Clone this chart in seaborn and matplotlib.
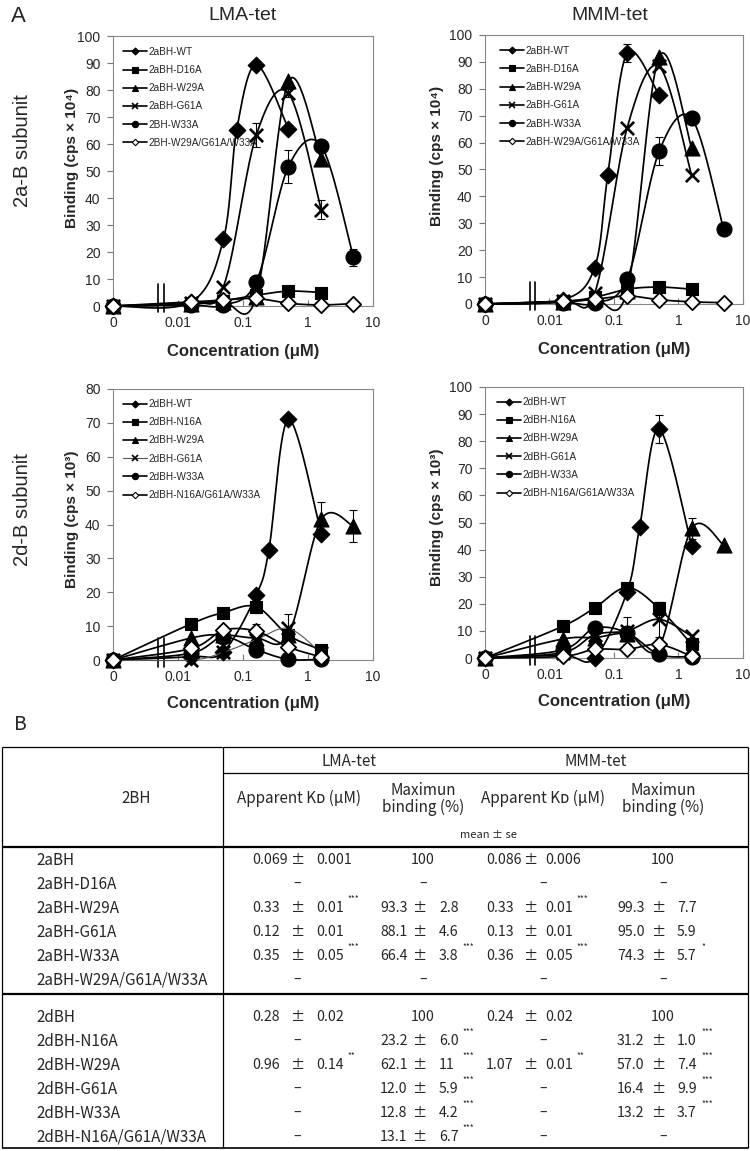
import numpy as np
import matplotlib
matplotlib.use("Agg")
import matplotlib.pyplot as plt
import matplotlib.transforms as mtransforms
from matplotlib.lines import Line2D
import seaborn as sns

# ------------------------------------------------------------------ data
conc6 = [0, 0.016, 0.05, 0.16, 0.5, 1.6]
conc7 = [0, 0.016, 0.05, 0.16, 0.5, 1.6, 5]
conc_wt_a = [0, 0.016, 0.05, 0.08, 0.16, 0.5]
conc_wt_d = [0, 0.016, 0.05, 0.16, 0.25, 0.5, 1.6]

# LMA-tet, 2a-B subunit (cps x 10^4)
lma_a_labels = ["2aBH-WT", "2aBH-D16A", "2aBH-W29A", "2aBH-G61A", "2BH-W33A", "2BH-W29A/G61A/W33A"]
lma_a_wt = [0, 1.5, 24.7, 65.2, 89.3, 65.6]
lma_a_wt_err = [0, 0, 0, 0, 0, 0]
lma_a_d16a = [0, 1.0, 2.0, 4.0, 5.5, 5.0]
lma_a_w29a = [0, 0.8, 1.5, 3.5, 83.2, 54.3]
lma_a_g61a = [0, 1.2, 7.2, 63.3, 78.8, 35.6]
lma_a_g61a_err = [0, 0, 0, 4.5, 1.5, 3.5]
lma_a_w33a = [0, 0.3, 0.3, 9.0, 51.6, 59.3, 18.0]
lma_a_w33a_err = [0, 0, 0, 0.5, 6.2, 1.0, 3.2]
lma_a_triple = [0, 1.5, 2.2, 2.8, 1.0, 0.4, 0.9]

# MMM-tet, 2a-B subunit (cps x 10^4)
mmm_a_labels = ["2aBH-WT", "2aBH-D16A", "2aBH-W29A", "2aBH-G61A", "2aBH-W33A", "2aBH-W29A/G61A/W33A"]
mmm_a_wt = [0, 1.5, 13.5, 47.8, 93.3, 77.7]
mmm_a_wt_err = [0, 0, 0, 0, 3.5, 1.5]
mmm_a_d16a = [0, 1.0, 2.5, 5.5, 6.3, 5.5]
mmm_a_w29a = [0, 0.8, 2.0, 5.0, 92.0, 58.0]
mmm_a_g61a = [0, 1.2, 4.0, 65.5, 88.3, 47.8]
mmm_a_w33a = [0, 0.5, 0.3, 9.3, 56.7, 69.0, 27.9]
mmm_a_w33a_err = [0, 0, 0, 0, 5.2, 0, 0]
mmm_a_triple = [0, 1.0, 1.8, 3.0, 1.6, 0.8, 0.5]

# LMA-tet, 2d-B subunit (cps x 10^3)
lma_d_labels = ["2dBH-WT", "2dBH-N16A", "2dBH-W29A", "2dBH-G61A", "2dBH-W33A", "2dBH-N16A/G61A/W33A"]
lma_d_wt = [0, 1.0, 2.5, 19.2, 32.5, 71.0, 37.2]
lma_d_n16a = [0, 10.7, 14.0, 15.7, 7.3, 3.0]
lma_d_n16a_err = [0, 0, 1.0, 1.8, 0, 0]
lma_d_w29a = [0, 6.5, 7.4, 6.5, 7.5, 41.5, 39.5]
lma_d_w29a_err = [0, 0, 0, 0, 0, 5.2, 4.8]
lma_d_g61a = [0, 0.0, 2.3, 6.0, 9.3, 2.0]
lma_d_g61a_err = [0, 0, 0, 0, 4.3, 0]
lma_d_w33a = [0, 2.0, 6.8, 3.0, 0.2, 0.2]
lma_d_triple = [0, 3.4, 8.8, 8.5, 3.8, 0.9]
lma_d_triple_err = [0, 0, 0, 2.0, 0, 0]

# MMM-tet, 2d-B subunit (cps x 10^3)
mmm_d_labels = ["2dBH-WT", "2dBH-N16A", "2dBH-W29A", "2dBH-G61A", "2dBH-W33A", "2dBH-N16A/G61A/W33A"]
mmm_d_wt = [0, 1.0, 0.0, 24.5, 48.3, 84.5, 41.3]
mmm_d_wt_err = [0, 0, 0, 0, 0, 5.2, 0]
mmm_d_n16a = [0, 11.7, 18.5, 26.0, 18.3, 5.0]
mmm_d_n16a_err = [0, 0, 0, 0, 2.5, 0]
mmm_d_w29a = [0, 7.0, 7.5, 9.0, 4.0, 47.8, 41.7]
mmm_d_w29a_err = [0, 0, 0, 0, 0, 4.0, 0]
mmm_d_g61a = [0, 2.0, 8.6, 10.0, 14.3, 8.0]
mmm_d_g61a_err = [0, 0, 0, 5.0, 6.5, 0]
mmm_d_w33a = [0, 3.0, 11.0, 9.3, 1.3, 0.5]
mmm_d_triple = [0, 0.6, 3.2, 3.2, 5.0, 0.6]

xtick_vals = [0, 0.01, 0.1, 1, 10]
xtick_labels = ["0", "0.01", "0.1", "1", "10"]

# table B
tab_labels_a = ["2aBH", "2aBH-D16A", "2aBH-W29A", "2aBH-G61A", "2aBH-W33A", "2aBH-W29A/G61A/W33A"]
tab_lma_kd_a = [("0.069", "0.001", ""), None, ("0.33", "0.01", "***"), ("0.12", "0.01", ""), ("0.35", "0.05", "***"), None]
tab_lma_max_a = ["100", None, ("93.3", "2.8", ""), ("88.1", "4.6", ""), ("66.4", "3.8", "***"), None]
tab_mmm_kd_a = [("0.086", "0.006", ""), None, ("0.33", "0.01", "***"), ("0.13", "0.01", ""), ("0.36", "0.05", "***"), None]
tab_mmm_max_a = ["100", None, ("99.3", "7.7", ""), ("95.0", "5.9", ""), ("74.3", "5.7", "*"), None]
tab_labels_d = ["2dBH", "2dBH-N16A", "2dBH-W29A", "2dBH-G61A", "2dBH-W33A", "2dBH-N16A/G61A/W33A"]
tab_lma_kd_d = [("0.28", "0.02", ""), None, ("0.96", "0.14", "**"), None, None, None]
tab_lma_max_d = ["100", ("23.2", "6.0", "***"), ("62.1", "11", "***"), ("12.0", "5.9", "***"), ("12.8", "4.2", "***"), ("13.1", "6.7", "***")]
tab_mmm_kd_d = [("0.24", "0.02", ""), None, ("1.07", "0.01", "**"), None, None, None]
tab_mmm_max_d = ["100", ("31.2", "1.0", "***"), ("57.0", "7.4", "***"), ("16.4", "9.9", "***"), ("13.2", "3.7", "***"), None]

# ------------------------------------------------------------------ style
sns.set_theme(style="white")
plt.rcParams["font.family"] = ["Liberation Sans", "DejaVu Sans"]
FAM_T = ["Noto Sans CJK JP", "DejaVu Sans"]

W, H = 750, 1151
fig = plt.figure(figsize=(W / 100, H / 100), dpi=100)


def rect(l, r, t, b):
    return [l / W, 1 - b / H, (r - l) / W, (b - t) / H]


def fwd(x):
    x = np.asarray(x, dtype=float)
    return np.log10(np.maximum(x, 1e-3))


def inv(p):
    return 10.0 ** np.asarray(p, dtype=float)


KIND = {
    "wt":   dict(marker="D", ms=8.5, fc="black", lw_e=0.8),
    "sq":   dict(marker="s", ms=9.2, fc="black", lw_e=0.8),
    "tri":  dict(marker="^", ms=10.8, fc="black", lw_e=0.8),
    "x":    dict(marker="x", ms=9.5, fc="black", lw_e=1.9),
    "o":    dict(marker="o", ms=10.8, fc="black", lw_e=0.8),
    "open": dict(marker="D", ms=7.8, fc="white", lw_e=1.3),
}
KIND_ORDER = ["wt", "sq", "tri", "x", "o", "open"]


def smooth_path(xs, ys, ymax, wpx, hpx):
    """Excel-style smoothed connecting line through the data points."""
    px = (fwd(xs) + 3) / 4 * wpx
    py = np.asarray(ys, float) / ymax * hpx
    pts = np.column_stack([px, py])
    n = len(pts)
    t = np.linspace(0, 1, 30)[:, None]
    out = []
    for i in range(n - 1):
        p0 = pts[max(i - 1, 0)]
        p1 = pts[i]
        p2 = pts[i + 1]
        p3 = pts[min(i + 2, n - 1)]
        c1 = p1 + (p2 - p0) / 6
        c2 = p2 - (p3 - p1) / 6
        seg = (1 - t) ** 3 * p1 + 3 * (1 - t) ** 2 * t * c1 + 3 * (1 - t) * t ** 2 * c2 + t ** 3 * p2
        out.append(seg if i == 0 else seg[1:])
    c = np.vstack(out)
    return inv(c[:, 0] / wpx * 4 - 3), c[:, 1] / hpx * ymax


def panel(box, series, labels, ymax, ylabel, leg_xy, ylab_y, xlab_y, ylab_x, thin=None):
    l, r, t, b = box
    ax = fig.add_axes(rect(l, r, t, b))
    ax.set_xscale("function", functions=(fwd, inv))
    ax.set_xlim(0, 10)
    ax.set_ylim(0, ymax)
    wpx, hpx = r - l, b - t
    for k, (xs, ys, err) in enumerate(series):
        kind = KIND[KIND_ORDER[k]]
        lc, lw = "black", 1.25
        if thin is not None and k == thin:
            lc, lw = "#555555", 0.8
        cx, cy = smooth_path(xs, ys, ymax, wpx, hpx)
        ax.plot(cx, cy, color=lc, lw=lw, zorder=3 + 2 * k, clip_on=False)
        if err is not None and any(e > 0 for e in err):
            xe = [x for x, e in zip(xs, err) if e > 0]
            ye = [y for y, e in zip(ys, err) if e > 0]
            ee = [e for e in err if e > 0]
            ax.errorbar(xe, ye, yerr=ee, fmt="none", ecolor="black", elinewidth=0.8,
                        capsize=3, capthick=0.8, zorder=3 + 2 * k, clip_on=False)
        sns.scatterplot(x=list(xs), y=list(ys), ax=ax, marker=kind["marker"],
                        s=kind["ms"] ** 2, color=kind["fc"] if kind["marker"] != "x" else "black",
                        edgecolor="black", linewidth=kind["lw_e"], zorder=4 + 2 * k,
                        legend=False)
    for coll in ax.collections:
        coll.set_clip_on(False)
    ax.set_xticks(xtick_vals)
    ax.set_xticklabels(xtick_labels)
    ax.xaxis.set_minor_locator(matplotlib.ticker.NullLocator())
    ax.set_yticks(np.arange(0, ymax + 1, 10))
    ax.tick_params(axis="x", direction="in", length=4, width=0.8, color="#777777",
                   labelsize=10, pad=7, bottom=True)
    ax.tick_params(axis="y", direction="out", length=4, width=0.8, color="#777777",
                   labelsize=10, pad=5, left=True)
    for s in ax.spines.values():
        s.set_color("#888888")
        s.set_linewidth(0.8)
    ax.set_ylabel(ylabel, fontsize=11, fontweight="bold", va="center")
    ax.yaxis.set_label_coords(ylab_x, ylab_y)
    ax.set_xlabel("Concentration (μM)", fontsize=12, fontweight="bold", va="center")
    ax.xaxis.set_label_coords(0.5, xlab_y)
    # axis break marks
    tr = mtransforms.blended_transform_factory(ax.transData, ax.transAxes)
    ax.fill_between([0.0049, 0.0060], [-0.01, -0.01], [0.01, 0.01], transform=tr,
                    color="white", zorder=2.7, clip_on=False, lw=0)
    for xb in (0.0049, 0.0060):
        ax.plot([xb, xb], [-0.024, 0.082], transform=tr, color="black", lw=1.2,
                zorder=2.8, clip_on=False)
    # legend
    handles = []
    for k in range(6):
        kind = KIND[KIND_ORDER[k]]
        lc, lw = "black", 1.2
        if thin is not None and k == thin:
            lc, lw = "#555555", 0.8
        handles.append(Line2D([0], [0], color=lc, lw=lw, marker=kind["marker"],
                              ms=kind["ms"] * 0.42, mfc=kind["fc"], mec="black",
                              mew=0.8 if kind["marker"] != "x" else 1.2))
    ax.legend(handles, labels, loc="upper left", bbox_to_anchor=leg_xy, frameon=False,
              fontsize=7.2, handlelength=2.4, handletextpad=0.15, labelspacing=0.82,
              borderpad=0, borderaxespad=0)
    return ax


panel((113, 373, 36, 306),
      [(conc_wt_a, lma_a_wt, lma_a_wt_err), (conc6, lma_a_d16a, None), (conc6, lma_a_w29a, None),
       (conc6, lma_a_g61a, lma_a_g61a_err), (conc7, lma_a_w33a, lma_a_w33a_err), (conc7, lma_a_triple, None)],
      lma_a_labels, 100, "Binding (cps × 10⁴)", (0.038, 0.96), 0.55, -0.17, -0.158)
panel((485, 743, 35, 304),
      [(conc_wt_a, mmm_a_wt, mmm_a_wt_err), (conc6, mmm_a_d16a, None), (conc6, mmm_a_w29a, None),
       (conc6, mmm_a_g61a, None), (conc7, mmm_a_w33a, mmm_a_w33a_err), (conc7, mmm_a_triple, None)],
      mmm_a_labels, 100, "Binding (cps × 10⁴)", (0.058, 0.96), 0.55, -0.17, -0.186)
panel((113, 373, 389, 660),
      [(conc_wt_d, lma_d_wt, None), (conc6, lma_d_n16a, lma_d_n16a_err), (conc7, lma_d_w29a, lma_d_w29a_err),
       (conc6, lma_d_g61a, lma_d_g61a_err), (conc6, lma_d_w33a, None), (conc6, lma_d_triple, lma_d_triple_err)],
      lma_d_labels, 80, "Binding (cps × 10³)", (0.038, 0.963), 0.52, -0.159, -0.158, thin=3)
panel((485, 743, 387, 658),
      [(conc_wt_d, mmm_d_wt, mmm_d_wt_err), (conc6, mmm_d_n16a, mmm_d_n16a_err), (conc7, mmm_d_w29a, mmm_d_w29a_err),
       (conc6, mmm_d_g61a, mmm_d_g61a_err), (conc6, mmm_d_w33a, None), (conc6, mmm_d_triple, None)],
      mmm_d_labels, 100, "Binding (cps × 10³)", (0.047, 0.963), 0.52, -0.159, -0.186)

# figure texts
def ftext(x, y, s, **kw):
    fig.text(x / W, 1 - y / H, s, **kw)

ftext(11, 16, "A", fontsize=16, ha="left", va="center")
ftext(243, 16, "LMA-tet", fontsize=14, ha="center", va="center")
ftext(610, 16, "MMM-tet", fontsize=14, ha="center", va="center")
ftext(23, 151, "2a-B subunit", fontsize=14.5, rotation=90, ha="center", va="center")
ftext(23, 510, "2d-B subunit", fontsize=14.5, rotation=90, ha="center", va="center")
ftext(14, 725, "B", fontsize=14, ha="left", va="center", family=FAM_T)

# ------------------------------------------------------------------ table
tax = fig.add_axes([0, 0, 1, 1])
tax.set_xlim(0, W)
tax.set_ylim(H, 0)
tax.axis("off")
tax.set_zorder(-1)

def hline(y, x0, x1, lw=0.9):
    tax.plot([x0, x1], [y, y], color="black", lw=lw, solid_capstyle="butt")

def vline(x, y0, y1, lw=0.9):
    tax.plot([x, x], [y0, y1], color="black", lw=lw, solid_capstyle="butt")

hline(747, 2, 748)
hline(773, 223, 748)
hline(847, 2, 748, lw=1.6)
hline(994, 2, 748, lw=1.6)
hline(1148, 2, 748, lw=1.2)
vline(2, 747, 1148)
vline(748, 747, 1148)
vline(223, 747, 1148)

TK = dict(family=FAM_T, fontsize=11, va="center")
TV = dict(family=FAM_T, fontsize=10.2, va="center")
tax.text(349, 761, "LMA-tet", ha="center", **TK)
tax.text(596, 761, "MMM-tet", ha="center", **TK)
tax.text(136, 798, "2BH", ha="center", **TK)
tax.text(299, 798, "Apparent Kᴅ (μM)", ha="center", **TK)
tax.text(543, 798, "Apparent Kᴅ (μM)", ha="center", **TK)
tax.text(423, 790, "Maximun", ha="center", **TK)
tax.text(423, 807, "binding (%)", ha="center", **TK)
tax.text(663, 790, "Maximun", ha="center", **TK)
tax.text(663, 807, "binding (%)", ha="center", **TK)
tax.text(488, 835, "mean ± se", ha="center", family=FAM_T, fontsize=8, va="center")

# columns: (value_x, pm_x, se_x, star_x, mid_x)
COLS = [(252, 297, 316, 347, 297), (380, 419, 439, 462, 423),
        (486, 530, 545, 576, 543), (617, 658, 677, 701, 663)]

def cell(col, y, v):
    vx, pmx, sex, stx, mid = COLS[col]
    if v is None:
        tax.text(mid, y, "–", ha="center", **TV)
    elif isinstance(v, str):
        tax.text(mid, y, v, ha="center", **TV)
    else:
        tax.text(vx, y, v[0], ha="left", **TV)
        tax.text(pmx, y, "±", ha="center", **TV)
        tax.text(sex, y, v[1], ha="left", **TV)
        if v[2]:
            tax.text(stx, y - 9, v[2], ha="left", family=FAM_T, fontsize=6, va="center")

def group(y0, labels, c1, c2, c3, c4):
    for i, lab in enumerate(labels):
        y = y0 + 24 * i
        tax.text(36, y, lab, ha="left", **TK)
        for col, vals in enumerate((c1, c2, c3, c4)):
            cell(col, y, vals[i])

group(860, tab_labels_a, tab_lma_kd_a, tab_lma_max_a, tab_mmm_kd_a, tab_mmm_max_a)
group(1017, tab_labels_d, tab_lma_kd_d, tab_lma_max_d, tab_mmm_kd_d, tab_mmm_max_d)

fig.savefig("out.png", dpi=100)
